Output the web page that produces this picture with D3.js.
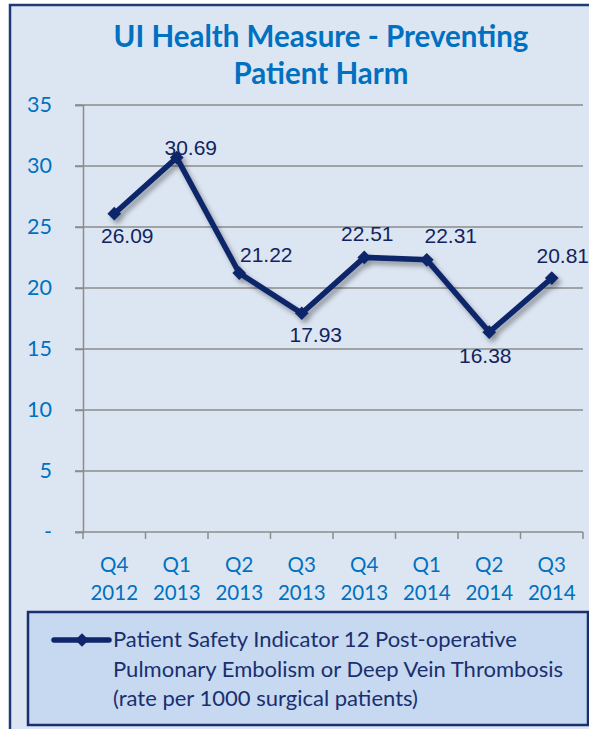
<!DOCTYPE html>
<html lang="en">

<head>
    <script src='https://d3js.org/d3.v7.min.js'></script>
    <style>
        body { margin: 0; background: #fff; }
    </style>
</head>

<body>

    <script>
        // quarters and rates (PSI 12, per 1000 surgical patients)
        const quarters = ["Q4", "Q1", "Q2", "Q3", "Q4", "Q1", "Q2", "Q3"];
        const years = ["2012", "2013", "2013", "2013", "2013", "2014", "2014", "2014"];
        const rates = [26.09, 30.69, 21.22, 17.93, 22.51, 22.31, 16.38, 20.81];
        const yTicks = [0, 5, 10, 15, 20, 25, 30, 35];
        const legendLines = [
            "Patient Safety Indicator 12 Post-operative",
            "Pulmonary Embolism or Deep Vein Thrombosis",
            "(rate per 1000 surgical patients)"
        ];
        // nudges for the data labels, as excel placed them
        const labelNudge = [[13, 29], [14, -3], [27, -11], [14, 29], [3, -16], [24, -17], [-4, 31], [11, -15]];

        const width = 589, height = 729;
        const navy = "#10266a";
        const blue = "#0070c0";

        const svg = d3.select("body").append("svg")
            .attr("width", width)
            .attr("height", height);

        const defs = svg.append("defs");
        const shadow = defs.append("filter").attr("id", "shadow")
            .attr("x", "-20%").attr("y", "-20%").attr("width", "140%").attr("height", "160%");
        shadow.append("feDropShadow")
            .attr("dx", 3).attr("dy", 4).attr("stdDeviation", 2.5)
            .attr("flood-color", "#000").attr("flood-opacity", 0.35);

        // chart area background + border
        svg.append("rect")
            .attr("x", 10).attr("y", 5)
            .attr("width", width + 20).attr("height", height + 20)
            .attr("fill", "#dce6f2")
            .attr("stroke", "#1f3a78")
            .attr("stroke-width", 2.5);

        // title
        svg.selectAll("text.title")
            .data(["UI Health Measure - Preventing", "Patient Harm"])
            .join("text")
            .attr("class", "title")
            .attr("x", 321)
            .attr("y", (d, i) => 47 + i * 37)
            .attr("text-anchor", "middle")
            .attr("font-family", "Lato")
            .attr("font-weight", "bold")
            .attr("font-size", 29.5)
            .attr("fill", blue)
            .text(d => d);

        const x = d3.scaleBand()
            .domain(d3.range(rates.length))
            .range([83, 583]);

        const y = d3.scaleLinear()
            .domain([0, 35])
            .range([532, 105]);

        // gridlines
        svg.append("g")
            .selectAll("line")
            .data(yTicks.slice(1))
            .join("line")
            .attr("x1", 75).attr("x2", 583)
            .attr("y1", d => y(d)).attr("y2", d => y(d))
            .attr("stroke", "#8c8c8c")
            .attr("stroke-width", 1.5);

        // y axis
        const yAxis = svg.append("g")
            .attr("transform", "translate(83,0)")
            .call(d3.axisLeft(y).tickValues(yTicks).tickSize(8).tickPadding(23)
                .tickFormat(d => d === 0 ? "-" : d));
        yAxis.select(".domain").attr("stroke", "#8c8c8c").attr("stroke-width", 1.5);
        yAxis.selectAll(".tick line").attr("stroke", "#8c8c8c").attr("stroke-width", 1.5);
        yAxis.selectAll(".tick text")
            .attr("font-family", "Lato")
            .attr("font-size", 21.5)
            .attr("fill", blue);

        // x axis
        const xAxis = svg.append("g")
            .attr("transform", "translate(0,532)")
            .call(d3.axisBottom(x).tickSize(0).tickFormat(""));
        xAxis.select(".domain").attr("d", "M75,0H583").attr("stroke", "#8c8c8c").attr("stroke-width", 1.5);
        svg.append("g")
            .selectAll("line")
            .data(d3.range(rates.length + 1))
            .join("line")
            .attr("x1", i => 83 + i * x.step()).attr("x2", i => 83 + i * x.step())
            .attr("y1", 532).attr("y2", 539)
            .attr("stroke", "#8c8c8c")
            .attr("stroke-width", 1.5);

        const cx = i => x(i) + x.bandwidth() / 2;

        const xl = svg.append("g")
            .selectAll("text")
            .data(quarters)
            .join("text")
            .attr("text-anchor", "middle")
            .attr("font-family", "Lato")
            .attr("font-size", 20.5)
            .attr("fill", blue);
        xl.append("tspan").attr("x", (d, i) => cx(i)).attr("y", 572).text(d => d);
        xl.append("tspan").attr("x", (d, i) => cx(i)).attr("y", 600).text((d, i) => years[i]);

        // series
        const line = d3.line()
            .x((d, i) => cx(i))
            .y(d => y(d));

        const series = svg.append("g").attr("filter", "url(#shadow)");
        series.append("path")
            .datum(rates)
            .attr("d", line)
            .attr("fill", "none")
            .attr("stroke", navy)
            .attr("stroke-width", 5.5)
            .attr("stroke-linejoin", "miter");

        const diamond = d3.symbol().type(d3.symbolDiamond2).size(120);
        series.selectAll("path.pt")
            .data(rates)
            .join("path")
            .attr("class", "pt")
            .attr("transform", (d, i) => `translate(${cx(i)},${y(d)})`)
            .attr("d", diamond)
            .attr("fill", navy);

        // data labels
        svg.append("g")
            .selectAll("text")
            .data(rates)
            .join("text")
            .attr("x", (d, i) => cx(i) + labelNudge[i][0])
            .attr("y", (d, i) => y(d) + labelNudge[i][1])
            .attr("text-anchor", "middle")
            .attr("font-family", "Liberation Sans")
            .attr("font-size", 21)
            .attr("fill", "#12245e")
            .text(d => d.toFixed(2));

        // legend
        const lg = svg.append("g");
        lg.append("rect")
            .attr("x", 28).attr("y", 612)
            .attr("width", 560).attr("height", 113)
            .attr("fill", "#c6d9f1")
            .attr("stroke", "#1a2f6e")
            .attr("stroke-width", 2.5);
        lg.append("line")
            .attr("x1", 54).attr("x2", 109)
            .attr("y1", 640).attr("y2", 640)
            .attr("stroke", navy)
            .attr("stroke-width", 5.5)
            .attr("stroke-linecap", "round");
        lg.append("path")
            .attr("transform", "translate(82,640)")
            .attr("d", diamond)
            .attr("fill", navy);
        lg.selectAll("text")
            .data(legendLines)
            .join("text")
            .attr("x", 113)
            .attr("y", (d, i) => 647 + i * 29.5)
            .attr("font-family", "Lato")
            .attr("font-size", 22)
            .attr("fill", "#1a2f6e")
            .text(d => d);
    </script>

</body>

</html>
